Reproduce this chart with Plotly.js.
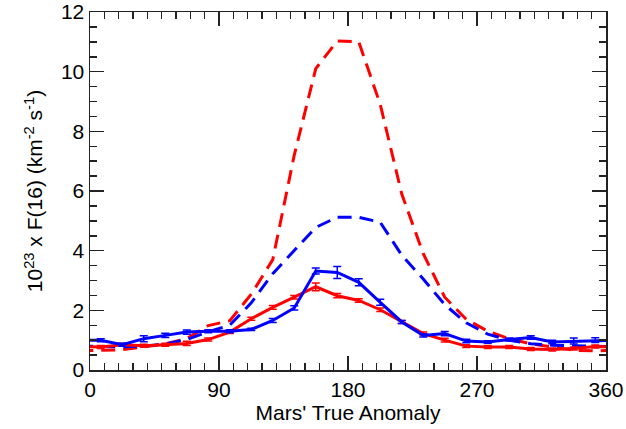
<!DOCTYPE html>
<html>
<head>
<meta charset="utf-8">
<script src="https://cdn.plot.ly/plotly-3.0.1.min.js"></script>
<style>html,body{margin:0;padding:0;background:#fff;}#chart{width:626px;height:429px;}</style>
</head>
<body>
<div id="chart"></div>
<script>
// Mars' true anomaly bin centres (degrees)
const anomaly = [7.5, 22.5, 37.5, 52.5, 67.5, 82.5, 97.5, 112.5, 127.5, 142.5, 157.5, 172.5,
                 187.5, 202.5, 217.5, 232.5, 247.5, 262.5, 277.5, 292.5, 307.5, 322.5, 337.5, 352.5];

// Observed (solid, with error bars)
const blueObs = [1.00, 0.85, 1.05, 1.16, 1.27, 1.30, 1.30, 1.36, 1.66, 2.08, 3.32, 3.27,
                 2.94, 2.27, 1.61, 1.16, 1.22, 0.97, 0.94, 1.02, 1.09, 0.94, 0.97, 1.00];
const blueErr = [0.05, 0.05, 0.10, 0.07, 0.07, 0.05, 0.05, 0.04, 0.07, 0.07, 0.10, 0.20,
                 0.12, 0.10, 0.05, 0.05, 0.07, 0.06, 0.04, 0.05, 0.06, 0.06, 0.10, 0.08];
const redObs  = [0.77, 0.85, 0.81, 0.85, 0.89, 1.02, 1.27, 1.72, 2.10, 2.44, 2.79, 2.49,
                 2.33, 2.02, 1.61, 1.22, 1.00, 0.80, 0.77, 0.77, 0.70, 0.69, 0.72, 0.79];
const redErr  = [0.05, 0.05, 0.05, 0.05, 0.07, 0.05, 0.05, 0.05, 0.06, 0.06, 0.13, 0.07,
                 0.06, 0.06, 0.05, 0.05, 0.06, 0.05, 0.05, 0.05, 0.05, 0.05, 0.05, 0.05];

// Model (dashed)
const blueModel = [0.78, 0.78, 0.80, 0.87, 1.02, 1.28, 1.50, 2.25, 3.23, 4.00, 4.78, 5.12,
                   5.12, 4.95, 3.85, 3.05, 2.19, 1.58, 1.20, 1.00, 0.88, 0.83, 0.82, 0.80];
const redModel  = [0.67, 0.68, 0.77, 0.88, 1.05, 1.49, 1.65, 2.54, 3.70, 7.20, 10.10, 11.03,
                   11.00, 8.90, 5.90, 3.90, 2.44, 1.70, 1.30, 1.05, 0.88, 0.78, 0.66, 0.64];

// Axis tick labels
const xTicks = [0, 90, 180, 270, 360];
const yTicks = [0, 2, 4, 6, 8, 10, 12];

// periodic wrap so lines reach both edges of the 0-360 axis
function wrapX(xs) { return [xs[xs.length - 1] - 360].concat(xs, [xs[0] + 360]); }
function wrapY(ys) { return [ys[ys.length - 1]].concat(ys, [ys[0]]); }
function wrapE(es) { return [0].concat(es, [0]); }

const RED = '#ff0000', BLUE = '#0000ff';
const dashPat = '14px,8px';

const traces = [
  {x: wrapX(anomaly), y: wrapY(redModel), mode: 'lines', line: {color: RED, width: 3, dash: dashPat}, hoverinfo: 'skip'},
  {x: wrapX(anomaly), y: wrapY(blueModel), mode: 'lines', line: {color: BLUE, width: 3, dash: dashPat}, hoverinfo: 'skip'},
  {x: wrapX(anomaly), y: wrapY(redObs), mode: 'lines', line: {color: RED, width: 3},
   error_y: {type: 'data', array: wrapE(redErr), visible: true, color: RED, thickness: 1.5, width: 4}},
  {x: wrapX(anomaly), y: wrapY(blueObs), mode: 'lines', line: {color: BLUE, width: 3},
   error_y: {type: 'data', array: wrapE(blueErr), visible: true, color: BLUE, thickness: 1.5, width: 4}}
];

const axisCommon = {
  showgrid: false, zeroline: false, showline: true, linecolor: '#222', linewidth: 1.5,
  mirror: 'ticks', ticks: 'inside', tickcolor: '#222', tickwidth: 1.5,
  ticklabeloverflow: 'allow',
  tickfont: {family: 'Liberation Sans, Arial, sans-serif', size: 21, color: '#000'}
};

const layout = {
  width: 626, height: 429,
  margin: {l: 90, r: 20, t: 12, b: 59},
  paper_bgcolor: '#fff', plot_bgcolor: '#fff',
  showlegend: false,
  font: {family: 'Liberation Sans, Arial, sans-serif', color: '#000'},
  xaxis: Object.assign({}, axisCommon, {
    range: [-0.001, 360.001], tickmode: 'array', tickvals: xTicks, ticktext: xTicks.map(String), ticklen: 14,
    minor: {dtick: 10, ticklen: 7, ticks: 'inside', tickcolor: '#222', tickwidth: 1.5, showgrid: false},
    title: {text: "Mars' True Anomaly", font: {size: 21, color: '#000'}, standoff: 4}
  }),
  yaxis: Object.assign({}, axisCommon, {
    range: [-0.0001, 12.0001], tickmode: 'array', tickvals: yTicks, ticktext: yTicks.map(String), ticklen: 14,
    minor: {dtick: 0.5, ticklen: 7, ticks: 'inside', tickcolor: '#222', tickwidth: 1.5, showgrid: false},
    title: {text: '10<sup>23</sup> x F(16) (km<sup>-2</sup> s<sup>-1</sup>)', font: {size: 21, color: '#000'}, standoff: 12}
  })
};

Plotly.newPlot('chart', traces, layout, {staticPlot: true, displayModeBar: false});
</script>
</body>
</html>
